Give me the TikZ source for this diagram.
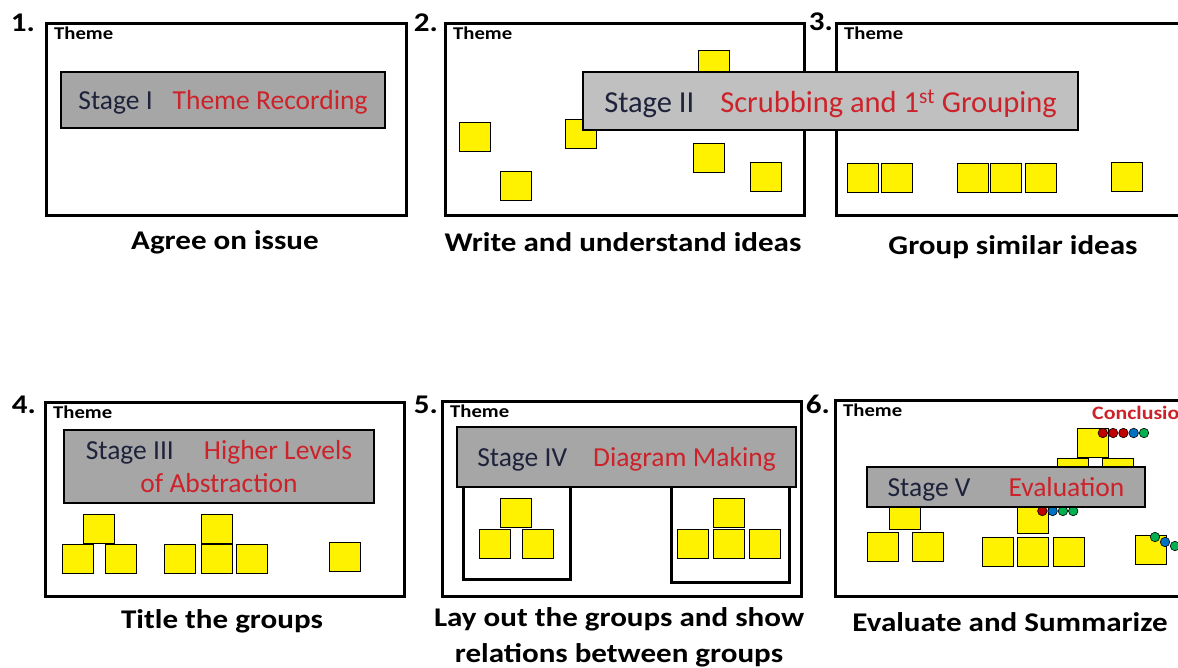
\documentclass[tikz,border=0pt]{standalone}
\usepackage{fontspec}
\setmainfont{Carlito}
\newfontfamily\widefont{Carlito}[FakeStretch=1.15]
\usetikzlibrary{positioning}

\definecolor{stagegray}{RGB}{166,166,166}
\definecolor{stagelight}{RGB}{192,192,192}
\definecolor{stagetext}{RGB}{30,34,58}
\definecolor{stagered}{RGB}{204,34,41}
\definecolor{dotred}{RGB}{192,0,0}
\definecolor{dotblue}{RGB}{0,112,192}
\definecolor{dotgreen}{RGB}{0,176,80}

\tikzset{
  frame/.style={draw, line width=2.5pt, fill=white, anchor=north west, inner sep=0pt},
  stage/.style={draw, line width=2.5pt, fill=stagegray, text=stagetext, inner sep=0pt,
    text depth=0pt, align=center, font=\fontsize{27.5}{33}\selectfont},
  sticky/.style={draw, line width=1.2pt, fill=yellow, anchor=north west, inner sep=0pt,
    minimum width=31pt, minimum height=29pt},
  theme/.style={anchor=north west, inner sep=0pt, font=\widefont\bfseries\fontsize{18}{20}\selectfont},
  num/.style={anchor=base east, inner sep=0pt, font=\widefont\bfseries\fontsize{27}{30}\selectfont},
  caption/.style={inner sep=0pt, align=center, font=\widefont\bfseries\fontsize{27}{36}\selectfont},
  dot/.style={circle, draw, line width=0.6pt, inner sep=0pt, minimum size=9.5pt},
  groupbox/.style={draw, line width=2.5pt, fill=white, anchor=north west, inner sep=0pt}
}

\newcommand{\red}[1]{\textcolor{stagered}{#1}}

\begin{document}
\begin{tikzpicture}[x=1pt, y=-1pt]
\useasboundingbox (0,0) rectangle (1178,667);
\clip (0,0) rectangle (1178,667);

% frames
\node[frame, minimum width=360pt, minimum height=192pt] (f1) at (45,22) {};
\node[frame, minimum width=359pt, minimum height=192pt] (f2) at (444,22) {};
\node[frame, minimum width=360pt, minimum height=192pt] (f3) at (835,22) {};
\node[frame, minimum width=359pt, minimum height=194pt] (f4) at (44,401) {};
\node[frame, minimum width=359pt, minimum height=195pt] (f5) at (441,400) {};
\node[frame, minimum width=360pt, minimum height=196pt] (f6) at (834,399) {};

\foreach \f in {1,...,6}
  \node[theme] (t\f) at ([shift={(9,5)}]f\f.north west) {Theme};

\node[num] (n1) at (35,31) {1.};
\node[num] (n2) at (438,31) {2.};
\node[num] (n3) at (833,30) {3.};
\node[num] (n4) at (36,413) {4.};
\node[num] (n5) at (438,413) {5.};
\node[num] (n6) at (830,413) {6.};

% stickies
\foreach \x/\y [count=\i] in {459/122,500/171,565/119,698/50,693/143,750/162}
  \node[sticky] (p2s\i) at (\x,\y) {};
\foreach \x/\y [count=\i] in {847/163,881/163,957/163,990/163,1025/163,1111/162}
  \node[sticky] (p3s\i) at (\x,\y) {};
\foreach \x/\y [count=\i] in {83/514,62/544,105/544,201/514,164/544,201/544,236/544,329/542}
  \node[sticky] (p4s\i) at (\x,\y) {};

\node[groupbox, minimum width=107pt, minimum height=98pt] (g5a) at (462,480) {};
\node[groupbox, minimum width=118pt, minimum height=101pt] (g5b) at (670,480) {};
\foreach \x/\y [count=\i] in {500/498,479/529,522/529,713/498,677/529,713/529,749/529}
  \node[sticky] (p5s\i) at (\x,\y) {};

\foreach \x/\y [count=\i] in {1077/428,1057/458,1102/458,889/500,867/532,912/532,1017/504,982/537,1017/537,1053/537,1135/535}
  \node[sticky] (p6s\i) at (\x,\y) {};
\foreach \c [count=\i] in {dotred,dotblue,dotgreen,dotgreen}
  \node[dot, fill=\c] (dm\i) at (1032+10.3*\i,511) {};

% stages
\node[stage, minimum width=324pt, minimum height=56pt] (s1) at (223,100)
  {Stage I\hspace{20pt}\red{Theme Recording}};
\node[stage, fill=stagelight, minimum width=495pt, minimum height=58pt,
  font=\fontsize{30.5}{33}\selectfont] (s2) at (830.5,101)
  {Stage II\hspace{26pt}\red{Scrubbing and 1\textsuperscript{st} Grouping}};
\node[stage, minimum width=310pt, minimum height=73pt] (s3) at (219,466.5)
  {Stage III\hspace{30pt}\red{Higher Levels}\\\red{of Abstraction}};
\node[stage, minimum width=339pt, minimum height=60pt] (s4) at (626.5,457)
  {Stage IV\hspace{26pt}\red{Diagram Making}};
\node[stage, minimum width=278pt, minimum height=40pt] (s5) at (1006,487)
  {Stage V\hspace{38pt}\red{Evaluation}};

% conclusion marks
\node[theme, anchor=base west, text=stagered, font=\widefont\bfseries\fontsize{19}{20}\selectfont] (concl) at (1092,419) {Conclusion};
\foreach \c [count=\i] in {dotred,dotred,dotred,dotblue,dotgreen}
  \node[dot, fill=\c] (dt\i) at (1092.5+10.3*\i,433) {};
\node[dot, fill=dotgreen] (dr1) at (1155,537) {};
\node[dot, fill=dotblue] (dr2) at (1165,542) {};
\node[dot, fill=dotgreen] (dr3) at (1175,546) {};

% captions
\node[caption] (c1) at (225,242) {Agree on issue};
\node[caption] (c2) at (623,242) {Write and understand ideas};
\node[caption] (c3) at (1013,247) {Group similar ideas};
\node[caption] (c4) at (222,621) {Title the groups};
\node[caption] (c5) at (619,637) {Lay out the groups and show\\relations between groups};
\node[caption] (c6) at (1010,622) {Evaluate and Summarize};
\end{tikzpicture}
\end{document}
